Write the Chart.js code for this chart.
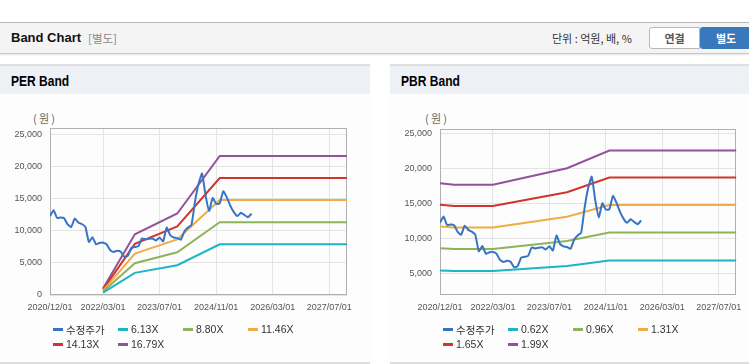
<!DOCTYPE html>
<html><head><meta charset="utf-8">
<script src="https://cdn.jsdelivr.net/npm/chart.js@4/dist/chart.umd.min.js"></script>
<style>
body{margin:0;width:749px;height:364px;background:#fff;position:relative;overflow:hidden;font-family:"Liberation Sans","Noto Sans CJK KR",sans-serif;}
.a{position:absolute}
#hdr{left:0;top:22px;width:749px;height:30px;background:#f4f4f4;border-top:1px solid #b8b8b8;border-bottom:1px solid #c6c6c6;box-shadow:0 1px 2px rgba(0,0,0,0.10)}
.ttl{font-weight:bold;font-size:13px;color:#111;line-height:16px}
.btn{top:27px;height:20px;line-height:20px;font-size:11px;font-weight:bold;text-align:center;border-radius:3px 0 0 3px;font-family:"Noto Sans CJK KR",sans-serif}
.ph{height:28px;background:#edf1f6;border-top:2px solid #dfdfdf}
.pb{background:#fdfdfd;border-bottom:2px solid #dedede}
.pt{font-weight:bold;font-size:14px;color:#000;line-height:16px;transform:scaleX(0.86);transform-origin:left center}
.unit{font-size:11px;color:#666;font-family:"Noto Sans CJK KR",sans-serif;line-height:14px}
.lg{display:grid;grid-template-columns:repeat(4,65px);grid-auto-rows:14.7px;font-size:10.5px;color:#333}
.li{display:flex;align-items:center;white-space:nowrap}
.mk{width:10px;height:3px;margin-right:3px;flex:none}
</style></head><body>
<div id="hdr" class="a"></div>
<div class="a ttl" style="left:11px;top:30px">Band Chart</div>
<div class="a" style="left:88px;top:30px;font-size:11.5px;color:#8a8a8a;line-height:16px;font-family:'Noto Sans CJK KR',sans-serif">[별도]</div>
<div class="a" style="left:552px;top:30px;font-size:11px;color:#333;line-height:16px;font-family:'Noto Sans CJK KR',sans-serif">단위 : 억원, 배, %</div>
<div class="a btn" style="left:649px;width:49px;background:#fff;border:1px solid #b8b8b8;color:#555">연결</div>
<div class="a btn" style="left:700px;width:52px;height:22px;line-height:22px;background:#3a78bd;color:#fff">별도</div>

<div class="a pb" style="left:0;top:64px;width:370px;height:298px"></div>
<div class="a ph" style="left:0;top:64px;width:370px"></div>
<div class="a pt" style="left:11px;top:73px">PER Band</div>
<div class="a pb" style="left:390px;top:64px;width:359px;height:298px"></div>
<div class="a ph" style="left:390px;top:64px;width:359px"></div>
<div class="a pt" style="left:401px;top:73px">PBR Band</div>

<div class="a unit" style="left:33px;top:111px">(&#8201;원&#8201;)</div>
<div class="a unit" style="left:425px;top:111px">(&#8201;원&#8201;)</div>

<canvas id="per" class="a" width="370" height="230" style="left:0;top:93px"></canvas>
<canvas id="pbr" class="a" width="359" height="230" style="left:390px;top:93px"></canvas>
<div id="perLeg" class="a lg" style="left:53px;top:322px"></div>
<div id="pbrLeg" class="a lg" style="left:443px;top:322px"></div>

<script>
// ---- data ----
const xStart = '2020/12';
const xEnd = '2027/12';
const xTickDates = ['2020/12','2022/03','2023/07','2024/11','2026/03','2027/07'];
const xTickLabels = ['2020/12/01','2022/03/01','2023/07/01','2024/11/01','2026/03/01','2027/07/01'];

// 수정주가, monthly from 2020/12
const priceStart = '2020/12';
const price = [12300,13200,12000,12050,11950,11000,10600,11900,11300,11050,
  10600,8250,9000,7900,8100,8150,7900,7000,6700,6900,
  6750,5950,6100,7350,7450,7600,8800,8650,8750,8800,
  8500,8950,8350,10500,9300,8950,8850,8600,9900,10500,
  10900,14500,17300,18900,15500,13100,15100,14200,14250,16150,
  15200,13900,12900,12300,12800,12450,12100,12650];

// PER band
const perLabels = ['수정주가','6.13X','8.80X','11.46X','14.13X','16.79X'];
const perBandDates = ['2022/03','2022/12','2023/12','2024/12','2027/12'];
const per613  = [368, 3451, 4634, 7902, 7902];
const per880  = [528, 4954, 6653, 11343, 11343];
const per1146 = [688, 6452, 8664, 14772, 14772];
const per1413 = [848, 7955, 10682, 18214, 18214];
const per1679 = [1007, 9453, 12693, 21642, 21642];
const perYTicks = [0,5000,10000,15000,20000,25000];

// PBR band
const pbrLabels = ['수정주가','0.62X','0.96X','1.31X','1.65X','1.99X'];
const pbrBandDates = ['2020/12','2021/04','2022/03','2023/12','2024/12','2027/12'];
const pbr062 = [5490, 5423, 5423, 6141, 6913, 6913];
const pbr096 = [8669, 8563, 8563, 9696, 10915, 10915];
const pbr131 = [11784, 11641, 11641, 13181, 14838, 14838];
const pbr165 = [14900, 14718, 14718, 16665, 18761, 18761];
const pbr199 = [17970, 17751, 17751, 20099, 22626, 22626];
const pbrYTicks = [5000,10000,15000,20000,25000];

const colors = ['#3775c4','#1eb3c6','#8db45a','#f0ac45','#d2342b','#92529c'];

// ---- helpers ----
function mi(s){const [y,m]=s.split('/').map(Number);const [y0,m0]=xStart.split('/').map(Number);return (y-y0)*12+(m-m0);}
const xTickMonths = xTickDates.map(mi);
const p0 = mi(priceStart);
const pricePts = price.map((v,i)=>({x:p0+i,y:v}));

const frame = {id:'frame',beforeDatasetsDraw(c){const a=c.chartArea,ctx=c.ctx;ctx.save();ctx.strokeStyle='#b0b0b0';ctx.lineWidth=1;
  ctx.strokeRect(Math.round(a.left)+0.5,Math.round(a.top)+0.5,Math.round(a.right-a.left)-1,Math.round(a.bottom-a.top)-1);ctx.restore();}};

function makeChart(id, legId, labels, bandDates, bands, yMin, yMax, yTicks, pad){
  const bm = bandDates.map(mi);
  const ds = [{label:labels[0],data:pricePts,borderColor:colors[0],borderWidth:2,tension:0.15}];
  bands.forEach((b,k)=>ds.push({label:labels[k+1],data:b.map((v,i)=>({x:bm[i],y:v})),borderColor:colors[k+1],borderWidth:2,tension:0}));
  const tickFont = {family:'"Liberation Sans", sans-serif',size:9};
  new Chart(document.getElementById(id),{
    type:'line',
    data:{datasets:ds},
    options:{
      responsive:false,animation:false,devicePixelRatio:1,
      layout:{padding:pad},
      plugins:{legend:{display:false},tooltip:{enabled:false}},
      elements:{point:{radius:0}},
      scales:{
        x:{type:'linear',min:0,max:mi(xEnd),
          afterBuildTicks:s=>{s.ticks=xTickMonths.map(v=>({value:v}));},
          afterFit:s=>{s.height=28;},
          ticks:{autoSkip:false,maxRotation:0,padding:7,font:tickFont,color:'#555',
            callback:v=>xTickLabels[xTickMonths.indexOf(v)]},
          grid:{color:'#e4e4e4',drawTicks:false},border:{display:false}},
        y:{min:yMin,max:yMax,
          afterBuildTicks:s=>{s.ticks=yTicks.map(v=>({value:v}));},
          afterFit:s=>{s.width=50;},
          ticks:{padding:8,font:tickFont,color:'#555',callback:v=>v.toLocaleString('en-US')},
          grid:{color:'#e4e4e4',drawTicks:false},border:{display:false}}
      }
    },
    plugins:[frame]
  });
  const leg=document.getElementById(legId);
  labels.forEach((l,i)=>{const d=document.createElement('div');d.className='li';
    d.innerHTML='<span class="mk" style="background:'+colors[i]+'"></span><span>'+l+'</span>';leg.appendChild(d);});
}

makeChart('per','perLeg',perLabels,perBandDates,[per613,per880,per1146,per1413,per1679],0,26000,perYTicks,{top:35,right:23,left:0,bottom:0});
makeChart('pbr','pbrLeg',pbrLabels,pbrBandDates,[pbr062,pbr096,pbr131,pbr165,pbr199],2000,25700,pbrYTicks,{top:36,right:12,left:0,bottom:0});
</script>
</body></html>
